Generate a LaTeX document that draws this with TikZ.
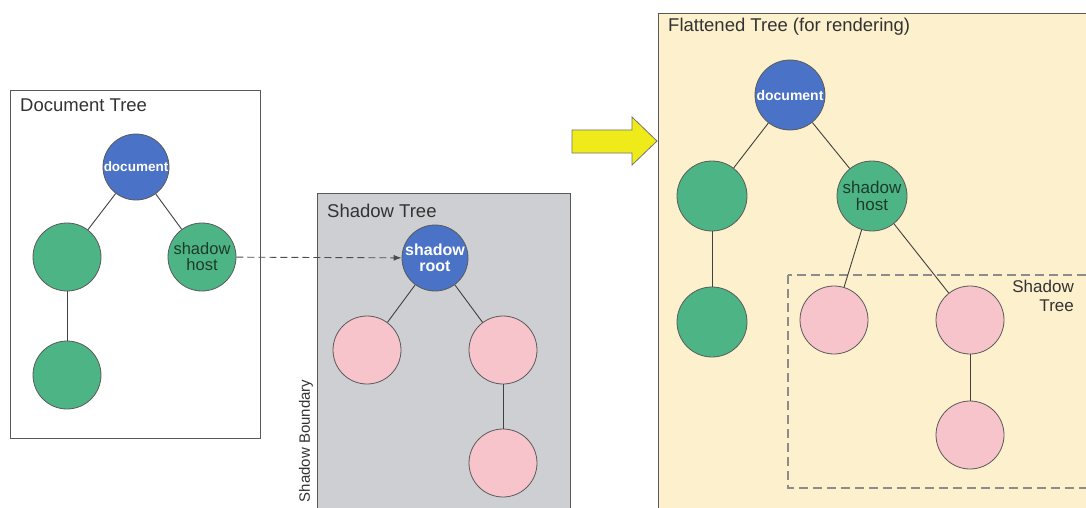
\documentclass[tikz,border=0pt]{standalone}
\usepackage{fontspec}
\setmainfont{Liberation Sans}
\usetikzlibrary{arrows.meta}
\definecolor{docblue}{HTML}{4A72C6}
\definecolor{hostgreen}{HTML}{4DB585}
\definecolor{rosepink}{HTML}{F7C4CC}
\definecolor{shadowgray}{HTML}{CDCFD2}
\definecolor{flatbg}{HTML}{FDF0CC}
\definecolor{arrowyellow}{HTML}{EFEA1A}
\definecolor{edgegray}{HTML}{5A5A5A}
\definecolor{hosttext}{HTML}{1E3A2C}
\tikzset{
  base/.style={circle, draw=edgegray, line width=0.8pt, minimum size=68pt, inner sep=0pt, align=center, text=white},
  bluenode/.style={base, fill=docblue, font=\bfseries\fontsize{13.5}{13.5}\selectfont},
  greennode/.style={base, fill=hostgreen, text=hosttext, font=\fontsize{16.5}{16}\selectfont},
  pinknode/.style={base, fill=rosepink},
  link/.style={draw=black!75, line width=0.9pt},
  panel/.style={draw=black!65, line width=0.8pt},
  title/.style={anchor=west, font=\fontsize{18.5}{18.5}\selectfont, text=black!80, inner sep=0pt},
}
\begin{document}
\begin{tikzpicture}[x=1pt,y=-1pt]
\useasboundingbox (0,0) rectangle (1086,508);
\fill[white] (0,0) rectangle (1086,508);

% Document tree
\draw[panel] (10,90) rectangle (260,438);
\node[title] (dtitle) at (20,105) {Document Tree};
\node[bluenode, minimum size=66pt] (d1) at (136,167) {document};
\node[greennode] (d2) at (67,257) {};
\node[greennode] (d3) at (202,257) {shadow\\host};
\node[greennode] (d4) at (67,375) {};
\draw[link] (d1) -- (d2);
\draw[link] (d1) -- (d3);
\draw[link] (d2) -- (d4);

% Shadow tree
\draw[panel, fill=shadowgray] (317,193) rectangle (570,510);
\node[title] (stitle) at (327,211) {Shadow Tree};
\node[rotate=90, font=\fontsize{15}{15}\selectfont, text=black!80, inner sep=0pt] (sb) at (306,441) {Shadow Boundary};
\node[bluenode, minimum size=66pt, font=\bfseries\fontsize{16}{16}\selectfont] (s1) at (435,258) {shadow\\root};
\node[pinknode] (s2) at (367,350) {};
\node[pinknode] (s3) at (503,350) {};
\node[pinknode] (s4) at (503,463) {};
\draw[link] (s1) -- (s2);
\draw[link] (s1) -- (s3);
\draw[link] (s3) -- (s4);
\draw[black!70, line width=0.9pt, dash pattern=on 7pt off 4pt, -{Latex[length=8pt,width=6pt]}] (d3) -- (s1);

% Yellow arrow
\draw[fill=arrowyellow, draw=black!55, line width=0.8pt]
  (572,130) -- (632,130) -- (632,117) -- (657,141) -- (632,165) -- (632,153) -- (572,153) -- cycle;

% Flattened tree
\draw[panel, fill=flatbg] (658,13) rectangle (1090,512);
\node[title] (ftitle) at (668,27) {Flattened Tree (for rendering)};
\node[bluenode, minimum size=70pt, font=\bfseries\fontsize{14}{14}\selectfont] (f1) at (790,95) {document};
\node[greennode, minimum size=70pt] (f2) at (712,196) {};
\node[greennode, minimum size=70pt, font=\fontsize{17}{16.5}\selectfont] (f3) at (872,196) {shadow\\host};
\node[greennode, minimum size=70pt] (f4) at (712,322) {};
\draw[dash pattern=on 9pt off 5pt, draw=black!45, line width=1.4pt] (788,275) rectangle (1095,488);
\node[anchor=north east, align=right, font=\fontsize{17}{19}\selectfont, text=black!80, inner sep=0pt] (stlabel) at (1074,280) {Shadow\\Tree};
\node[pinknode] (f5) at (834,320) {};
\node[pinknode] (f6) at (970,320) {};
\node[pinknode] (f7) at (970,435) {};
\draw[link] (f1) -- (f2);
\draw[link] (f1) -- (f3);
\draw[link] (f2) -- (f4);
\draw[link] (f3) -- (f5);
\draw[link] (f3) -- (f6);
\draw[link] (f6) -- (f7);
\end{tikzpicture}
\end{document}
